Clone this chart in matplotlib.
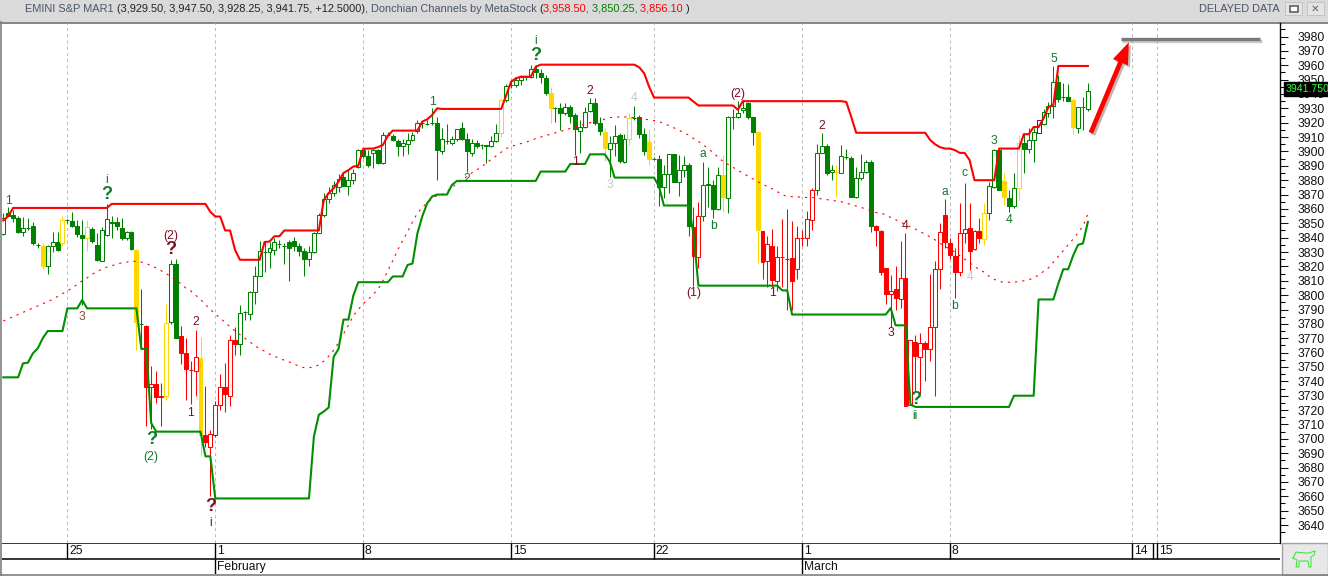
import matplotlib
matplotlib.use("Agg")
import numpy as np
import matplotlib.pyplot as plt
import matplotlib.patheffects as pe
from matplotlib.patches import Rectangle, FancyArrowPatch
from matplotlib.transforms import blended_transform_factory

W, H = 1328, 576
plt.rcParams['font.family'] = ['Liberation Sans', 'DejaVu Sans']

# ---- candles, one entry per bar (4 hour bars) ----
opens = [
    3842.4, 3857, 3856, 3853.5, 3844, 3847, 3848, 3835, 3834, 3820,
    3834, 3837, 3836.5, 3852, 3851.5, 3848, 3842, 3839.5, 3846, 3835,
    3824, 3842, 3851, 3851, 3846.5, 3840, 3844, 3831.6, 3780, 3778.7,
    3736, 3738.5, 3729, 3730, 3781, 3822, 3771.6, 3759.5, 3748, 3747.5,
    3756.5, 3703, 3694, 3702.5, 3723.5, 3736, 3730, 3769, 3766, 3788,
    3787, 3802, 3813, 3830, 3830, 3831.5, 3835.7, 3834, 3837, 3838,
    3834, 3831, 3825, 3830, 3843, 3856, 3867, 3871, 3875.5, 3882,
    3876, 3880, 3889.5, 3901, 3897, 3899, 3901, 3892, 3911.5, 3911,
    3907, 3904, 3905, 3908, 3914, 3919.5, 3919.2, 3919.5, 3919.5, 3900.6,
    3907.5, 3906, 3909, 3916, 3908.5, 3899, 3906, 3904.5, 3904.5, 3904,
    3907.5, 3912.6, 3936, 3946, 3946, 3949.7, 3951.6, 3951.6, 3957.6, 3954.4,
    3951, 3941, 3930, 3930, 3926.6, 3931, 3925.4, 3914.5, 3917, 3928.4,
    3933.5, 3919.6, 3913.8, 3902, 3906, 3911.5, 3893, 3908.4, 3923.6, 3924,
    3912, 3906.6, 3895, 3895, 3875, 3884, 3898, 3878.6, 3887, 3890.4,
    3847.3, 3826.5, 3855.4, 3877, 3877, 3859.8, 3883.6, 3867.4, 3924, 3924,
    3929, 3933.5, 3923.8, 3913.6, 3844.8, 3824, 3834.5, 3810, 3826.4, 3825,
    3826, 3818, 3840, 3839.5, 3852.4, 3873, 3899, 3904, 3885.5, 3886,
    3885.3, 3896, 3895.3, 3868, 3881.3, 3886, 3892.4, 3848.2, 3844.6, 3819,
    3801, 3804, 3797.6, 3811.6, 3723.8, 3767.6, 3756.8, 3767, 3762.4, 3778,
    3818, 3856, 3836.3, 3827.4, 3816, 3843, 3846.4, 3832, 3844.6, 3839,
    3857.5, 3875.6, 3901, 3879.5, 3867.5, 3862, 3874.4, 3906, 3901.5, 3908,
    3913, 3919, 3926.6, 3931.7, 3948.6, 3938, 3937.7, 3935.8, 3916, 3930.8,
    3929.5,
]
highs = [
    3857, 3861, 3859, 3855, 3854.6, 3854, 3851, 3836, 3836, 3835,
    3844, 3844, 3855, 3853, 3857.6, 3852.6, 3852.6, 3852.5, 3847.5, 3843,
    3847.5, 3863.5, 3855, 3854.5, 3853.5, 3844.5, 3844.5, 3832, 3804, 3779,
    3751, 3747, 3739, 3794, 3824.5, 3825, 3778.8, 3770, 3754, 3776,
    3771, 3737, 3706, 3726, 3745, 3752.5, 3772, 3778, 3793, 3789,
    3803, 3820, 3838, 3837, 3837, 3840, 3838.5, 3836, 3838.5, 3840.5,
    3836, 3832.5, 3834.5, 3844, 3857, 3871, 3875, 3879.5, 3884, 3885.5,
    3887.5, 3888, 3902, 3902, 3901, 3902, 3902, 3913.5, 3913.5, 3912,
    3909, 3909, 3913, 3913.5, 3922, 3921.5, 3922, 3930, 3924, 3916,
    3919, 3911, 3915.5, 3920.5, 3912.6, 3909, 3908, 3905.5, 3904.5, 3911,
    3919, 3936.5, 3947, 3949.5, 3952, 3953, 3952.5, 3960, 3960, 3957.7,
    3953.2, 3945, 3931, 3933.5, 3933.5, 3932, 3926.5, 3922, 3931, 3937,
    3937, 3924, 3916, 3911, 3918.4, 3912.6, 3912, 3926.6, 3931.7, 3925.4,
    3916, 3915.4, 3896.4, 3897.6, 3890.6, 3898.5, 3898.5, 3897.6, 3896.8, 3891.8,
    3861.6, 3865, 3893, 3889, 3880, 3889.4, 3897.6, 3924.7, 3929.7, 3935,
    3935.6, 3934.7, 3924.2, 3914.5, 3844.8, 3841.5, 3846, 3834, 3853, 3860,
    3851.7, 3848, 3845, 3858.4, 3874.5, 3905.5, 3912.7, 3905.5, 3890.6, 3890.6,
    3904.6, 3902, 3896.5, 3889.4, 3898.5, 3894, 3894, 3848.5, 3845, 3819,
    3814.3, 3820, 3837.5, 3843, 3768.8, 3772, 3773.5, 3768, 3815, 3823.8,
    3850, 3867, 3840, 3832.6, 3864, 3878, 3864, 3845, 3854, 3864,
    3879, 3902, 3902, 3885, 3873.4, 3885, 3911.5, 3912.7, 3916, 3916,
    3922, 3929.7, 3934.5, 3959.5, 3953, 3947.5, 3947, 3937, 3931, 3938,
    3947.5,
]
lows = [
    3842, 3855, 3851, 3843, 3841, 3845.5, 3835, 3832.5, 3818.5, 3815,
    3830, 3831, 3834.5, 3850.5, 3847.5, 3840.5, 3793, 3830.5, 3836.5, 3823.5,
    3823.5, 3841.5, 3840, 3845, 3838.5, 3838.5, 3831.5, 3762, 3765, 3709,
    3707, 3725, 3709, 3727, 3780, 3770, 3752, 3727, 3724, 3730,
    3688, 3694, 3660, 3701, 3720, 3719, 3723, 3758, 3758, 3783,
    3783, 3794, 3813, 3816, 3819, 3828, 3833, 3822, 3809.5, 3830.5,
    3827, 3813, 3820, 3829.5, 3843, 3854.5, 3864, 3869, 3871.5, 3876,
    3870, 3877.5, 3888.5, 3895.5, 3889.5, 3888.5, 3891, 3891, 3910.5, 3907.5,
    3896.5, 3896.5, 3898.5, 3907, 3913, 3916, 3918.5, 3918.5, 3880, 3898,
    3905, 3904.5, 3907.5, 3908, 3886, 3896.5, 3902.5, 3902, 3892, 3903,
    3906.5, 3910, 3934.5, 3944, 3945, 3946, 3949.7, 3951, 3951, 3947.4,
    3939.5, 3920, 3920.8, 3915, 3925.5, 3919.6, 3897.6, 3899, 3916.5, 3927.7,
    3918.5, 3911.5, 3893.6, 3882.5, 3896.5, 3891.8, 3892, 3904.6, 3922, 3909.2,
    3897.6, 3890.6, 3894, 3862, 3867.4, 3871, 3879, 3868.7, 3882.5, 3841,
    3806.5, 3819, 3851.7, 3861.6, 3853.4, 3859.5, 3858, 3857, 3915.4, 3923,
    3927, 3922.6, 3904.6, 3822.3, 3811, 3806, 3806, 3802.8, 3806, 3790,
    3790, 3811, 3834.5, 3834, 3845.5, 3869.4, 3899, 3883.6, 3880, 3868,
    3885, 3894.5, 3868, 3867.5, 3880, 3885, 3844, 3834, 3814, 3794,
    3778, 3790, 3791, 3722.5, 3723.3, 3733, 3731.5, 3740, 3754, 3730,
    3804.5, 3833, 3825, 3798, 3813, 3836, 3817.7, 3831.5, 3836.3, 3835,
    3852.5, 3874.5, 3873, 3862.7, 3857.8, 3860.4, 3866.2, 3885, 3899, 3893,
    3913, 3918.5, 3924, 3923, 3934.7, 3935, 3935, 3912, 3912.5, 3915,
    3928.25,
]
closes = [
    3853.5, 3855, 3853.5, 3844, 3846.5, 3847, 3836, 3835, 3820, 3834,
    3837, 3831.5, 3852.5, 3852, 3848, 3842.5, 3840, 3847.5, 3838, 3824.5,
    3845, 3853, 3850, 3848, 3840, 3844, 3832, 3781, 3780, 3736,
    3738, 3729, 3730, 3780.9, 3822, 3770, 3760, 3748.5, 3748, 3757,
    3703, 3698, 3703.5, 3723.5, 3736, 3731, 3769, 3766, 3787.9, 3788,
    3802.5, 3813, 3831, 3830, 3833, 3837, 3835.7, 3834, 3833, 3834,
    3831, 3825.5, 3830, 3843, 3856, 3867, 3871, 3877, 3881, 3876,
    3880, 3885, 3901, 3896.5, 3890.5, 3901, 3892, 3911.5, 3911.5, 3908,
    3904, 3906, 3908, 3911.5, 3919.5, 3919.5, 3919.2, 3919.5, 3901, 3909,
    3907.5, 3909, 3915.5, 3908.5, 3900, 3906, 3904, 3904.5, 3904, 3907.5,
    3912.6, 3936, 3945.6, 3946, 3949.7, 3951.6, 3951.6, 3957.6, 3955, 3951.6,
    3941, 3930, 3930, 3927, 3931, 3925, 3915.4, 3917, 3927.7, 3933.5,
    3919.6, 3914.5, 3902.2, 3906, 3911, 3893.7, 3908.4, 3923.6, 3923.6, 3912,
    3900.6, 3895, 3895, 3875.5, 3884, 3898, 3879, 3887, 3890.4, 3847.8,
    3827, 3854.8, 3877, 3877.5, 3860, 3883.4, 3868, 3923.8, 3924, 3927,
    3930, 3924.3, 3913.8, 3845, 3823.4, 3835.4, 3810.6, 3826.4, 3826.4, 3825,
    3809.5, 3840, 3840, 3853, 3873, 3899, 3904, 3885, 3887, 3886,
    3896.5, 3896, 3868, 3881.3, 3886, 3892.4, 3848.4, 3845, 3816, 3801,
    3803, 3798, 3812, 3723, 3768.8, 3757.9, 3767, 3762.4, 3778, 3818,
    3843.7, 3837, 3827.6, 3816, 3843, 3846, 3831, 3844.8, 3840, 3857.5,
    3876, 3901, 3873.2, 3868, 3862.3, 3874.4, 3906, 3902, 3908, 3913.8,
    3922, 3927.3, 3931.7, 3948, 3936.3, 3938, 3935.4, 3916.8, 3931, 3930.8,
    3941.75,
]
# g green, r red, y gold, p purple
bar_colors = ("g"*8 + "y" + "g"*3 + "y" + "g"*4 + "y" + "g"*9 + "y" + "g" + "r"*4 + "y" + "g"*2
              + "r"*4 + "y" + "r"*7 + "g"*53 + "y" + "g"*9 + "y" + "g"*10 + "y" + "g"*4 + "y"
              + "g"*3 + "y" + "g"*8 + "r"*2 + "g"*4 + "y" + "g"*6 + "y" + "r"*11 + "g"*4 + "y"
              + "g"*7 + "r"*22 + "y" + "g"*3 + "y" + "g"*2 + "y" + "g"*3 + "p" + "g"*6 + "y" + "g"*3)

# ---- Donchian channels ----
upper = ([3852, 3855] + [3860.7]*20 + [3863.5]*20 + [3858, 3854.7, 3854.7, 3845, 3845, 3831.5]
         + [3824.6]*5 + [3837, 3837.3, 3841, 3841] + [3845]*8
         + [3866, 3871, 3874.4, 3879, 3885, 3887, 3889.5, 3890, 3901.8, 3902, 3902, 3903, 3904.5, 3911]
         + [3914.5]*6 + [3920.8, 3922.4, 3925.4, 3930] + [3929.6]*13
         + [3939, 3948.5, 3951, 3952, 3952, 3952, 3959] + [3960.4]*20
         + [3958.5, 3954.4, 3945] + [3937.5]*8 + [3934.7] + [3932]*8 + [3929] + [3935]*21
         + [3934.4, 3924] + [3913]*15 + [3908, 3905, 3903, 3902, 3902, 3901, 3899, 3899, 3894]
         + [3880]*5 + [3902]*5 + [3912]*2 + [3917]*2 + [3923, 3931, 3932.4] + [3959.5]*7)
lower = ([3742.8]*4 + [3752.5, 3753, 3759.5, 3763, 3770] + [3775]*4 + [3790.8]*3 + [3796.6]
         + [3790.8]*11 + [3762.6]*2 + [3711] + [3705]*10 + [3687.8]*2 + [3658.5]*20
         + [3701.6, 3716.7, 3719, 3721.8, 3757, 3762.6, 3783, 3783, 3799.7] + [3809]*7 + [3813]*3
         + [3821, 3822, 3843, 3855, 3864, 3868.7] + [3870]*3 + [3876.7] + [3879.5]*17 + [3886]*6
         + [3891.3]*4 + [3898]*4 + [3893] + [3881.8]*9 + [3875.6] + [3862.4]*6 + [3843]
         + [3806.6]*17 + [3803.3]*2 + [3786.5]*20 + [3791] + [3779]*3 + [3724] + [3722.2]*20
         + [3730]*5 + [3797]*4 + [3808, 3818, 3818, 3827.5, 3835, 3836, 3851])
middle = [
    3782, 3783.5, 3785, 3786.5, 3788, 3789.5, 3791, 3792.5, 3794, 3795.5,
    3797, 3799, 3801, 3803, 3805, 3807.5, 3810, 3812, 3814.5, 3816.5,
    3818, 3819.5, 3820.5, 3821.5, 3822.5, 3823, 3823.6, 3823.5, 3823, 3822,
    3820.5, 3819, 3817, 3815, 3813, 3810.5, 3808, 3805, 3803, 3800,
    3797, 3793.5, 3790, 3787, 3784, 3781, 3778, 3775, 3772.5, 3770,
    3767.5, 3765, 3762.6, 3761, 3759, 3757.5, 3756, 3754.7, 3753.5, 3752,
    3750.5, 3749.5, 3749.5, 3750, 3751.5, 3754, 3757.5, 3761.6, 3767, 3773,
    3779, 3785.7, 3790, 3794, 3797, 3800.5, 3804, 3810, 3817, 3824,
    3831.5, 3838, 3844, 3851, 3857, 3861, 3864.5, 3867, 3869.5, 3870,
    3872, 3875, 3877.5, 3880, 3882.5, 3885, 3887, 3889.4, 3892, 3894.5,
    3897, 3899.5, 3902, 3903.5, 3904.5, 3905.5, 3906.5, 3907.5, 3909, 3910,
    3911, 3912, 3913, 3914, 3915, 3916, 3917, 3918, 3919, 3920,
    3920.8, 3921.5, 3922.5, 3923.5, 3924, 3924, 3924, 3924, 3923.5, 3923,
    3922.5, 3922, 3921.5, 3920.8, 3919.5, 3918, 3916.5, 3915, 3913, 3911.5,
    3909, 3907, 3904.5, 3902, 3899, 3896, 3893, 3891, 3889, 3887,
    3884.8, 3883, 3881, 3879, 3877.4, 3875.5, 3874, 3872, 3870, 3868.6,
    3868.5, 3868.5, 3868, 3868, 3868, 3867.5, 3867, 3866.5, 3866, 3865.5,
    3865, 3864, 3863, 3862, 3861, 3860, 3859, 3857.5, 3857, 3856,
    3854, 3852.5, 3851, 3849, 3847.5, 3846, 3844, 3842.5, 3840.5, 3838.5,
    3836, 3834, 3832, 3830, 3827.5, 3825, 3822.5, 3820, 3817.6, 3816,
    3813, 3811, 3809.5, 3809, 3809, 3809, 3809.5, 3810, 3810.7, 3812,
    3814, 3816.5, 3819, 3823, 3827, 3831, 3835, 3839, 3843.5, 3848,
    3856.6,
]

# ---- axes labels ----
date_bars = [13, 43, 73, 103, 132, 162, 192, 229, 234]
date_labels = ["25", "1", "8", "15", "22", "1", "8", "14", "15"]
extra_sep = 233.2
month_bars = [43, 162]
month_labels = ["February", "March"]
price_ticks = list(range(3640, 3990, 10))

# ---- wave counts: text, bar, price, colour key ----
wave_text = ["1", "i", "?", "(2)", "?", "3", "?", "(2)", "2", "1", "?", "i", "1", "2", "i", "?", "2", "1",
             "4", "3", "(1)", "a", "b", "(2)", "1", "2", "4", "3", "?", "ii", "a", "b", "c", "4", "3", "4", "5"]
wave_bar = [1, 21, 21, 34, 34, 16, 30, 30, 39, 38, 42, 42, 87, 94, 108, 108, 119, 116,
            128, 123, 140, 142, 144, 149, 156, 166, 183, 180, 185, 185, 191, 193, 195, 196, 201, 204, 213]
wave_price = [3865.6, 3880, 3869.8, 3841.3, 3831.5, 3785, 3699.4, 3687.6, 3781.5, 3718, 3652.8, 3641.7,
              3934.4, 3881, 3977, 3967, 3942, 3892.7, 3937, 3876.8, 3801.6, 3898.3, 3848.2, 3940,
              3801.6, 3917.8, 3848.2, 3773.8, 3727.2, 3716, 3871.9, 3792.6, 3885, 3812.8, 3907.3, 3852.4, 3964.4]
wave_kind = ["g", "g", "g", "d", "d", "b", "g", "g", "d", "d", "d", "d", "g", "g", "g", "g", "d", "d",
             "l", "l", "d", "g", "g", "d", "d", "d", "d", "d", "g", "g", "g", "g", "g", "l", "g", "g", "g"]

# ---- target and note, in bars and price ----
target_bars = [226.7, 255]
target_price = [3978, 3978]
arrow_from = (220.6, 3913)
arrow_to = (228.3, 3976)

color_map = {"g": "#008000", "r": "#ff0000", "y": "#ffd700", "p": "#800080"}
wave_colors = {"g": "#107a28", "d": "#7a0f1e", "b": "#8a4a30", "l": "#c8c8c8"}


def axes_px(x0, y0, x1, y1):
    return [x0 / W, 1 - y1 / H, (x1 - x0) / W, (y1 - y0) / H]


fig = plt.figure(figsize=(W / 100, H / 100), dpi=100, facecolor="white")

# window frame, in pixels
frame = fig.add_axes([0, 0, 1, 1], zorder=0)
frame.set_xlim(0, W)
frame.set_ylim(H, 0)
frame.axis("off")
frame.add_patch(Rectangle((0, 0), W, 22, fc="#dadada", ec="none"))
frame.plot([0, W], [22.5, 22.5], color="#707070", lw=1.2)
frame.plot([0.5, 0.5], [22, H], color="#808080", lw=1.2)
frame.plot([0, W], [574.5, 574.5], color="#808080", lw=1.2)
frame.add_patch(Rectangle((1282, 543), 46, 32, fc="#e8e8e8", ec="#a0a0a0", lw=1))
for bx in (1285, 1307):
    frame.add_patch(Rectangle((bx, 2), 17, 13, fc="#e4e4e4", ec="#c4c4c4", lw=0.7))
frame.add_patch(Rectangle((1290, 6), 8, 6, fc="white", ec="#555555", lw=1.1))
frame.text(1315.5, 9, "\u2715", color="#666666", fontsize=7.5, ha="center", va="center",
           family=["DejaVu Sans"], fontweight="bold")
# little bull
frame.plot([1293, 1296, 1304, 1309, 1315, 1314, 1311, 1311, 1309, 1308, 1299, 1299, 1296, 1297, 1293],
           [558, 552, 553, 553, 551, 555, 557, 567, 567, 561, 561, 567, 567, 560, 558], color="#33e533", lw=0.7)
frame.text(1280, 8.5, "DELAYED DATA", color="#4a5568", fontsize=7.9, ha="right", va="center")

# title made of coloured pieces
title_parts = [("EMINI S&P MAR1 ", "#4a5568"),
               ("(3,929.50, 3,947.50, 3,928.25, 3,941.75, +12.5000)", "#222222"),
               (", Donchian Channels by MetaStock ", "#4a5568"),
               ("(", "#222222"), ("3,958.50, ", "#ff0000"), ("3,850.25, ", "#008000"),
               ("3,856.10 ", "#ff0000"), (")", "#222222")]
renderer = fig.canvas.get_renderer()
tx = 25
for part, col in title_parts:
    t = frame.text(tx, 8.5, part, color=col, fontsize=7.9, va="center", ha="left")
    tx = t.get_window_extent(renderer).x1

# main price pane
ax = fig.add_axes(axes_px(2, 23, 1280, 543), zorder=2)
ax.patch.set_alpha(0)
bars = np.arange(len(closes))
ax.set_xlim((2 - 3.3) / 4.93, (1280 - 3.3) / 4.93)
ax.set_ylim(3627.5, 3989.4)

ax.set_xticks(date_bars)
ax.set_xticklabels([])
ax.tick_params(axis="x", length=0)
ax.grid(axis="x", ls=(0, (3, 3)), color="#bdbdbd", lw=0.75)
ax.set_axisbelow(True)

ax.yaxis.tick_right()
ax.set_yticks(price_ticks)
ax.set_yticks([p + 5 for p in price_ticks[:-1]] + [3635, 3985], minor=True)
ax.tick_params(axis="y", which="major", length=5.8, width=0.75, pad=7, labelsize=8.7, colors="#111111")
ax.tick_params(axis="y", which="minor", length=3.5, width=0.75)
for side in ("top", "left", "bottom"):
    ax.spines[side].set_visible(False)
ax.spines["right"].set_linewidth(1)

# candles, up bars hollow and down bars filled
cols = [color_map[c] for c in bar_colors]
ax.vlines(bars, lows, highs, colors=cols, lw=0.75, zorder=3)
o = np.array(opens)
c = np.array(closes)
faces = ["white" if c[i] > o[i] else cols[i] for i in range(len(c))]
ax.bar(bars, np.abs(c - o), bottom=np.minimum(o, c), width=0.8, color=faces, edgecolor=cols, lw=0.75, zorder=4)

ax.plot(bars, middle, color="#ff0000", lw=0.8, ls=(0, (2, 4.5)), zorder=5)
ax.plot(bars, upper, color="#ff0000", lw=1.5, zorder=6)
ax.plot(bars, lower, color="#008f00", lw=1.5, zorder=6)

for txt, xb, yp, kind in zip(wave_text, wave_bar, wave_price, wave_kind):
    if txt == "?":
        ax.text(xb, yp, txt, color=wave_colors[kind], fontsize=13, fontweight="bold",
                ha="center", va="center", zorder=7)
    else:
        ax.text(xb, yp, txt, color=wave_colors[kind], fontsize=8.7, ha="center", va="center", zorder=7)

# hand drawn target and arrow
ax.plot(target_bars, target_price, color="#787878", lw=2.4, zorder=7, solid_capstyle="butt",
        path_effects=[pe.SimpleLineShadow(offset=(1, -1), shadow_color="#999999", alpha=0.5), pe.Normal()])
arrow = FancyArrowPatch(arrow_from, arrow_to, arrowstyle="simple,head_length=1.2,head_width=0.9,tail_width=0.26",
                        mutation_scale=13, color="#ff0000", lw=0, zorder=8, shrinkA=0, shrinkB=0,
                        path_effects=[pe.SimplePatchShadow(offset=(1.5, -1.5), alpha=0.3), pe.Normal()])
ax.add_patch(arrow)

# last price box
trans = blended_transform_factory(ax.transAxes, ax.transData)
ax.text(1.0045, closes[-1] + 1.7, f"{closes[-1]:.3f}", transform=trans, color="#33ff33", fontsize=7.6,
        va="center", ha="left", zorder=9, clip_on=False,
        bbox=dict(fc="black", ec="black", pad=1.5))

# date strip, shares the bar scale
dates = fig.add_axes(axes_px(2, 543, 1280, 574), sharex=ax, zorder=1)
dates.set_ylim(0, 2)
dates.axis("off")
dates.hlines([1, 1.98], *ax.get_xlim(), colors="black", lw=1.1)
dates.vlines(date_bars + [extra_sep], 1, 2, colors="black", lw=1)
dates.vlines(month_bars, 0, 1, colors="black", lw=1)
for xb, lab in zip(date_bars, date_labels):
    dates.text(xb + 0.35, 1.47, lab, fontsize=8.7, va="center", ha="left", color="#111111")
for xb, lab in zip(month_bars, month_labels):
    dates.text(xb + 0.35, 0.47, lab, fontsize=8.7, va="center", ha="left", color="#111111")

fig.savefig("out.png", dpi=100)
